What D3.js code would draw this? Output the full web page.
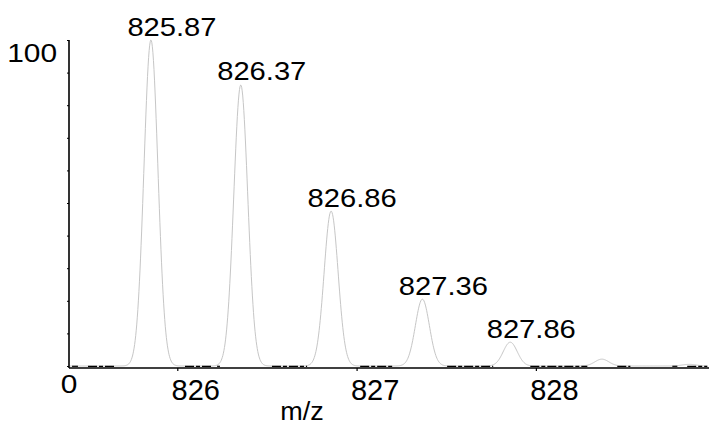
<!DOCTYPE html>
<html>
<head>
<meta charset="utf-8">
<script src="https://cdn.jsdelivr.net/npm/d3@7"></script>
<style>
  html, body { margin: 0; padding: 0; background: #fff; }
  svg { display: block; }
  text { font-family: "Liberation Sans", Arial, sans-serif; fill: #000; }
</style>
</head>
<body>
<svg id="chart" width="709" height="427"></svg>
<script>
// ---- data ----
const peakMz      = [825.853, 826.354, 826.858, 827.367, 827.857, 828.368, 828.855];
const peakHeight  = [100, 86.2, 47.5, 20.5, 7.3, 2.1, 0.5];
const peakSigma   = 0.039;            // peak width (m/z)
const peakLabels  = ["825.87", "826.37", "826.86", "827.36", "827.86"];
const noiseStart  = [825.413, 825.502, 826.043, 826.222, 826.528, 827.020, 827.505, 827.969, 828.454, 828.761, 828.844];
const noiseEnd    = [825.446, 825.652, 826.194, 826.238, 826.724, 827.204, 827.762, 828.287, 828.527, 828.789, 828.956];
const xTicks      = [826, 827, 828];
const yTicks      = [0, 10, 20, 30, 40, 50, 60, 70, 80, 90, 100];
const yTickLabels = ["0", "100"];
const xTitle      = "m/z";

// ---- layout ----
const svg = d3.select("#chart");
const x = d3.scaleLinear().domain([825.396, 828.96]).range([69, 708]);
const y = d3.scaleLinear().domain([0, 100]).range([366, 40]);
const axisY = 368;

// profile trace built from the peak list
const profile = [];
for (let m = 825.396; m <= 828.96; m += 0.003) {
  let v = 0;
  peakMz.forEach((c, i) => { v += peakHeight[i] * Math.exp(-0.5 * ((m - c) / peakSigma) ** 2); });
  profile.push([m, v]);
}
const line = d3.line().x(d => x(d[0])).y(d => y(d[1]));
svg.append("path").datum(profile)
  .attr("d", line).attr("fill", "none")
  .attr("stroke", "#c6c6c6").attr("stroke-width", 1);

// baseline noise bits (black)
svg.append("g").selectAll("line").data(noiseStart).join("line")
  .attr("x1", d => x(d)).attr("x2", (d, i) => x(noiseEnd[i]))
  .attr("y1", y(0) + 0.3).attr("y2", y(0) + 0.3)
  .attr("stroke", "#000").attr("stroke-width", 1.2)
  .attr("stroke-dasharray", "9,2,4,2");

// x axis
const xAxis = d3.axisBottom(x).tickValues(xTicks).tickSize(3).tickFormat("");
const gx = svg.append("g").attr("transform", `translate(0,${axisY})`).call(xAxis);
gx.select(".domain").attr("d", `M${x.range()[0]},0H${x.range()[1] + 1}`).attr("stroke", "#000").attr("stroke-width", 1.6);
gx.selectAll(".tick line").attr("stroke", "#000").attr("stroke-width", 1.2);
gx.selectAll(".tick").append("text")
  .attr("x", 18).attr("y", 32)
  .attr("text-anchor", "middle")
  .style("font-size", "29px")
  .text(d => d3.format("d")(d));

// y axis
const yAxis = d3.axisLeft(y).tickValues(yTicks).tickSize(2).tickFormat("");
const gy = svg.append("g").attr("transform", `translate(${x.range()[0]},0)`).call(yAxis);
gy.select(".domain").attr("d", `M0,${y(100)}V${axisY}`).attr("stroke", "#000").attr("stroke-width", 1.6);
gy.selectAll(".tick line").attr("stroke", "#000").attr("stroke-width", 1);

// y labels: "100" at top-left, "0" under the corner
svg.append("text")
  .attr("transform", `translate(${x.range()[0] - 12},${y(100) + 22}) scale(1.15,1)`)
  .attr("text-anchor", "end").style("font-size", "26px")
  .text(yTickLabels[1]);
svg.append("text")
  .attr("transform", `translate(${x.range()[0]},${axisY + 25}) scale(1.15,1)`)
  .attr("text-anchor", "middle").style("font-size", "26px")
  .text(yTickLabels[0]);

// x title
svg.append("text")
  .attr("transform", `translate(302,420) scale(1.08,1)`)
  .attr("text-anchor", "middle").style("font-size", "25px")
  .text(xTitle);

// peak labels
svg.append("g").selectAll("text").data(peakLabels).join("text")
  .attr("transform", (d, i) => `translate(${x(peakMz[i]) + 21},${y(peakHeight[i]) - 4.5}) scale(1.1,1)`)
  .attr("text-anchor", "middle").style("font-size", "26.5px")
  .text(d => d);
</script>
</body>
</html>
